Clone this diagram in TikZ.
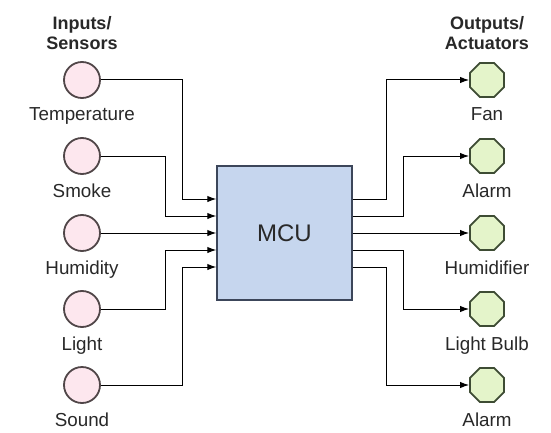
\documentclass[tikz,border=0pt]{standalone}
\usepackage{fontspec}
\setmainfont{Liberation Sans}
\usetikzlibrary{arrows.meta}
\usetikzlibrary{calc}
\usetikzlibrary{positioning}
\usetikzlibrary{shapes.geometric}

\definecolor{sensorfill}{RGB}{253,231,238}
\definecolor{sensordraw}{RGB}{80,70,72}
\definecolor{actfill}{RGB}{228,244,202}
\definecolor{actdraw}{RGB}{62,76,52}
\definecolor{mcufill}{RGB}{198,214,238}
\definecolor{mcudraw}{RGB}{60,70,90}
\definecolor{txtgray}{RGB}{40,40,40}

\begin{document}
\begin{tikzpicture}[
	x=0.5pt,y=-0.5pt,
  	> = {Latex[length=4.5pt,width=3.2pt]},
  	sensor/.style = {circle,draw=sensordraw,line width=0.9pt,fill=sensorfill,minimum size=18pt,inner sep=0pt},
  	actuator/.style = {regular polygon,regular polygon sides=8,draw=actdraw,line width=0.9pt,fill=actfill,minimum size=18.4pt,inner sep=0pt},
  	mcubox/.style = {draw=mcudraw,line width=0.7pt,fill=mcufill,minimum width=67.5pt,minimum height=67pt,text=txtgray,font=\fontsize{12}{14}\selectfont},
  	devname/.style = {font=\fontsize{9.4}{11}\selectfont,text=txtgray,inner sep=0pt,anchor=north},
  	head/.style = {font=\bfseries\fontsize{9}{10}\selectfont,text=txtgray,align=center,inner sep=0pt},
  	wire/.style = {->,line width=0.5pt}
  	]

	\useasboundingbox (0,0) rectangle (551,433);

	\node[mcubox] (mcu) at (284.5,233) {MCU};

	\node[head] (inhead) at (82,33) {Inputs/\\Sensors};
	\node[head] (outhead) at (487,33) {Outputs/\\Actuators};

	% sensors
	\foreach \n/\y/\t in {temp/80/Temperature, smoke/156/Smoke, humid/233/Humidity, light/309/Light, sound/385/Sound}{
		\node[sensor] (\n) at (82,\y) {};
		\node[devname, below=4.3pt of \n] (\n-lbl) {\t};
	}

	% actuators
	\foreach \n/\y/\t in {fan/80/Fan, alarm/156/Alarm, hum/233/Humidifier, bulb/309/Light Bulb, alarmb/385/Alarm}{
		\node[actuator] (\n) at (487,\y) {};
		\node[devname, below=4.7pt of \n] (\n-lbl) {\t};
	}

	\coordinate (in1) at ($(mcu.west)+(0,-34)$);
	\coordinate (in2) at ($(mcu.west)+(0,-17)$);
	\coordinate (in3) at (mcu.west);
	\coordinate (in4) at ($(mcu.west)+(0,17)$);
	\coordinate (in5) at ($(mcu.west)+(0,34)$);

	\coordinate (out1) at ($(mcu.east)+(0,-34)$);
	\coordinate (out2) at ($(mcu.east)+(0,-17)$);
	\coordinate (out3) at (mcu.east);
	\coordinate (out4) at ($(mcu.east)+(0,17)$);
	\coordinate (out5) at ($(mcu.east)+(0,34)$);

	\draw[wire] (temp.east) -| ($(in1)+(-34,0)$) -- (in1);
	\draw[wire] (smoke.east) -| ($(in2)+(-51,0)$) -- (in2);
	\draw[wire] (humid.east) -- (in3);
	\draw[wire] (light.east) -| ($(in4)+(-51,0)$) -- (in4);
	\draw[wire] (sound.east) -| ($(in5)+(-34,0)$) -- (in5);

	\draw[wire] (out1) -- ++(34,0) |- (fan.west);
	\draw[wire] (out2) -- ++(51,0) |- (alarm.west);
	\draw[wire] (out3) -- (hum.west);
	\draw[wire] (out4) -- ++(51,0) |- (bulb.west);
	\draw[wire] (out5) -- ++(34,0) |- (alarmb.west);

\end{tikzpicture}
\end{document}
